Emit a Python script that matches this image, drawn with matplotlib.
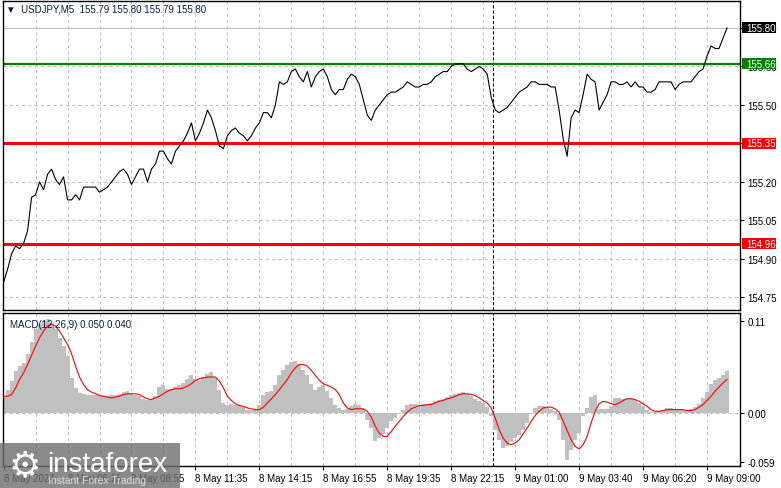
import numpy as np
import matplotlib.pyplot as plt
import matplotlib.transforms as mtransforms
from matplotlib.patches import Rectangle

plt.rcParams['font.family'] = ['Liberation Sans', 'DejaVu Sans']

# USDJPY M5 closes, one value every 2 bars
price = [154.81, 154.86, 154.92, 154.95, 154.94, 154.96, 155.01, 155.14, 155.15, 155.20,
         155.17, 155.23, 155.25, 155.21, 155.19, 155.22, 155.13, 155.13, 155.15, 155.13,
         155.18, 155.18, 155.18, 155.18, 155.16, 155.17, 155.18, 155.20, 155.22, 155.24,
         155.25, 155.23, 155.19, 155.22, 155.25, 155.25, 155.20, 155.25, 155.27, 155.32,
         155.32, 155.29, 155.27, 155.32, 155.34, 155.36, 155.39, 155.43, 155.36, 155.39,
         155.43, 155.48, 155.45, 155.40, 155.34, 155.33, 155.38, 155.40, 155.41, 155.39,
         155.38, 155.36, 155.38, 155.41, 155.43, 155.47, 155.47, 155.45, 155.50, 155.59,
         155.58, 155.59, 155.63, 155.64, 155.61, 155.59, 155.63, 155.57, 155.61, 155.63,
         155.64, 155.61, 155.56, 155.54, 155.56, 155.56, 155.60, 155.62, 155.61, 155.58,
         155.52, 155.46, 155.44, 155.48, 155.50, 155.52, 155.54, 155.55, 155.55, 155.56,
         155.57, 155.59, 155.58, 155.57, 155.57, 155.58, 155.58, 155.59, 155.61, 155.62,
         155.63, 155.63, 155.65, 155.66, 155.66, 155.66, 155.64, 155.63, 155.64, 155.65,
         155.64, 155.62, 155.53, 155.48, 155.47, 155.48, 155.49, 155.51, 155.53, 155.55,
         155.56, 155.57, 155.59, 155.59, 155.58, 155.58, 155.58, 155.57, 155.57, 155.48,
         155.37, 155.30, 155.45, 155.48, 155.47, 155.54, 155.62, 155.60, 155.59, 155.48,
         155.51, 155.54, 155.59, 155.59, 155.58, 155.58, 155.59, 155.57, 155.59, 155.57,
         155.57, 155.55, 155.55, 155.56, 155.59, 155.59, 155.59, 155.59, 155.56, 155.58,
         155.59, 155.59, 155.59, 155.61, 155.63, 155.64, 155.69, 155.73, 155.72, 155.72,
         155.76, 155.80]

macd_hist = [0.020, 0.028, 0.038, 0.050, 0.056, 0.060, 0.070, 0.085, 0.100, 0.107,
             0.110, 0.112, 0.108, 0.100, 0.090, 0.080, 0.068, 0.042, 0.030, 0.024,
             0.023, 0.022, 0.022, 0.021, 0.020, 0.020, 0.020, 0.021, 0.022, 0.023,
             0.025, 0.026, 0.024, 0.022, 0.020, 0.017, 0.016, 0.015, 0.020, 0.031,
             0.034, 0.029, 0.029, 0.031, 0.033, 0.036, 0.041, 0.045, 0.041, 0.039,
             0.043, 0.047, 0.049, 0.042, 0.028, 0.012, 0.010, 0.011, 0.010, 0.009,
             0.007, 0.004, 0.004, 0.005, 0.010, 0.022, 0.025, 0.026, 0.034, 0.045,
             0.052, 0.057, 0.061, 0.062, 0.059, 0.052, 0.046, 0.035, 0.028, 0.031,
             0.033, 0.026, 0.018, 0.010, 0.006, 0.004, 0.005, 0.008, 0.011, 0.010,
             0.005, -0.008, -0.018, -0.034, -0.030, -0.025, -0.018, -0.010, -0.006, -0.001,
             0.004, 0.010, 0.011, 0.011, 0.010, 0.011, 0.011, 0.012, 0.014, 0.016,
             0.017, 0.019, 0.021, 0.023, 0.024, 0.025, 0.023, 0.020, 0.017, 0.014,
             0.012, 0.007, -0.004, -0.020, -0.032, -0.042, -0.040, -0.035, -0.030, -0.026,
             -0.020, -0.012, -0.001, 0.006, 0.008, 0.008, 0.007, 0.005, 0.002, -0.008,
             -0.032, -0.056, -0.044, -0.032, -0.024, -0.004, 0.006, 0.019, 0.022, 0.005,
             0.005, 0.005, 0.008, 0.018, 0.018, 0.017, 0.018, 0.017, 0.015, 0.012,
             0.008, 0.004, 0.001, 0.001, 0.002, 0.003, 0.006, 0.006, 0.005, 0.005,
             0.004, 0.004, 0.005, 0.007, 0.011, 0.018, 0.025, 0.035, 0.039, 0.042,
             0.046, 0.050]

macd_signal = [0.020, 0.020, 0.022, 0.030, 0.040, 0.048, 0.058, 0.069, 0.080, 0.090,
               0.098, 0.104, 0.106, 0.104, 0.098, 0.090, 0.082, 0.071, 0.056, 0.043,
               0.034, 0.028, 0.025, 0.023, 0.021, 0.020, 0.019, 0.018, 0.019, 0.020,
               0.022, 0.023, 0.023, 0.023, 0.022, 0.019, 0.017, 0.016, 0.018, 0.020,
               0.023, 0.026, 0.028, 0.029, 0.029, 0.030, 0.032, 0.035, 0.039, 0.041,
               0.042, 0.043, 0.043, 0.043, 0.038, 0.030, 0.020, 0.015, 0.011, 0.009,
               0.008, 0.006, 0.005, 0.004, 0.004, 0.007, 0.012, 0.017, 0.022, 0.028,
               0.034, 0.040, 0.048, 0.054, 0.058, 0.058, 0.056, 0.051, 0.045, 0.039,
               0.035, 0.033, 0.031, 0.028, 0.022, 0.012, 0.006, 0.004, 0.005, 0.005,
               0.005, 0.002, -0.005, -0.016, -0.024, -0.028, -0.028, -0.022, -0.016, -0.010,
               -0.004, 0.001, 0.005, 0.007, 0.009, 0.009, 0.010, 0.010, 0.012, 0.014,
               0.015, 0.017, 0.018, 0.020, 0.022, 0.023, 0.023, 0.022, 0.021, 0.018,
               0.015, 0.012, 0.006, -0.006, -0.020, -0.030, -0.036, -0.038, -0.036, -0.032,
               -0.025, -0.018, -0.010, -0.003, 0.002, 0.006, 0.007, 0.007, 0.005, 0.001,
               -0.010, -0.021, -0.032, -0.040, -0.043, -0.038, -0.028, -0.012, 0.002, 0.011,
               0.014, 0.013, 0.011, 0.010, 0.012, 0.015, 0.017, 0.017, 0.016, 0.014,
               0.011, 0.008, 0.004, 0.002, 0.002, 0.003, 0.004, 0.004, 0.004, 0.004,
               0.004, 0.003, 0.003, 0.004, 0.007, 0.010, 0.015, 0.020, 0.026, 0.031,
               0.036, 0.040]

time_labels = ['8 May 2024', '8 May 06:15', '8 May 08:55', '8 May 11:35', '8 May 14:15',
               '8 May 16:55', '8 May 19:35', '8 May 22:15', '9 May 01:00', '9 May 03:40',
               '9 May 06:20', '9 May 09:00']
price_ticks = [155.80, 155.65, 155.50, 155.35, 155.20, 155.05, 154.90, 154.75]
macd_ticks = [0.11, 0.00, -0.059]
macd_tick_labels = ['0.11', '0.00', '-0.059']
green_level = 155.66
red_levels = [155.35, 154.96]
last_price = 155.80
day_break = 245   # bar index of 9 May 00:00

bars = np.arange(len(price)) * 2
label_bars = np.arange(len(time_labels)) * 32
grid_bars = np.arange(16, 368, 16)

W, H = 781, 489
fig = plt.figure(figsize=(W / 100, H / 100), dpi=100)
ax1 = fig.add_axes([3 / W, 178 / H, 737 / W, 309 / H])
ax2 = fig.add_axes([3 / W, 22 / H, 737 / W, 153 / H])

grid_kw = dict(color='#c0c0c0', lw=0.75, ls=(0, (3, 3)), zorder=0)
for ax in (ax1, ax2):
    ax.set_xlim(-0.3, 368.5)
    for b in grid_bars:
        ax.axvline(b, **grid_kw)
    ax.axvline(day_break, color='black', lw=0.75, ls=(0, (3, 2)), zorder=1)
    for s in ax.spines.values():
        s.set_color('black')
        s.set_linewidth(1)
    ax.yaxis.tick_right()
    ax.tick_params(axis='y', length=3, width=0.75, pad=2.5, labelsize=7, colors='black')

# price panel
ax1.set_ylim(154.701, 155.905)
for t in price_ticks[1:]:
    ax1.axhline(t, **grid_kw)
ax1.axhline(last_price, color='#c0c0c0', lw=0.75, zorder=0)
ax1.axhline(green_level, color='#008000', lw=1.6, zorder=2)
for lv in red_levels:
    ax1.axhline(lv, color='#ff0000', lw=2.2, zorder=2)
ax1.plot(bars, price, color='black', lw=0.8, zorder=3)
ax1.set_yticks(price_ticks)
ax1.set_yticklabels([f'{t:.2f}' for t in price_ticks])
ax1.set_xticks([])

# coloured price tags on the right scale
trans = mtransforms.blended_transform_factory(ax1.transAxes, ax1.transData)
tag_h = 11 / 256.7
for lv, col in [(last_price, 'black'), (green_level, '#008000'),
                (red_levels[0], '#ff0000'), (red_levels[1], '#ff0000')]:
    ax1.add_patch(Rectangle((1.0027, lv - tag_h / 2), 0.0461, tag_h, transform=trans,
                            facecolor=col, edgecolor='none', clip_on=False, zorder=4))
    ax1.text(1.0085, lv, f'{lv:.2f}', transform=trans, color='white', fontsize=7,
             va='center', ha='left', clip_on=False, zorder=5)

fig.text(6 / W, 1 - 10 / H, '\u25bc  USDJPY,M5  155.79 155.80 155.79 155.80',
         fontsize=7, color='#0b1d4a', va='center', ha='left')

# MACD panel
ax2.set_ylim(-0.0634, 0.1196)
ax2.axhline(0, **grid_kw)
ax2.bar(bars, macd_hist, width=2, color='#c0c0c0', linewidth=0, zorder=1)
ax2.plot(bars, macd_signal, color='#ff0000', lw=0.8, zorder=3)
ax2.set_yticks(macd_ticks)
ax2.set_yticklabels(macd_tick_labels)
ax2.set_xticks(label_bars)
ax2.set_xticklabels(time_labels, ha='left')
ax2.tick_params(axis='x', length=3, width=0.75, pad=2, labelsize=7)
ax2.text(7 / 737, 1 - 11 / 153, 'MACD(12,26,9) 0.050 0.040', transform=ax2.transAxes,
         fontsize=7, color='#0b1d4a', va='center', ha='left')

# watermark
fig.patches.append(Rectangle((0, 0), 180 / W, 45 / H, transform=fig.transFigure,
                             facecolor='#6e6e6e', alpha=0.8, edgecolor='none', zorder=5))
fig.text(25 / W, 1 - 466 / H, '\u2699', fontsize=26, color='white', ha='center',
         va='center', family='DejaVu Sans', zorder=6)
fig.text(47 / W, 1 - 472 / H, 'instaforex', fontsize=20, color='white', ha='left',
         va='baseline', zorder=6)
fig.text(48 / W, 1 - 481 / H, 'Instant Forex Trading', fontsize=7.5, color='#e0e0e0',
         ha='left', va='center', zorder=6)

fig.savefig('out.png', dpi=100, facecolor='white')
